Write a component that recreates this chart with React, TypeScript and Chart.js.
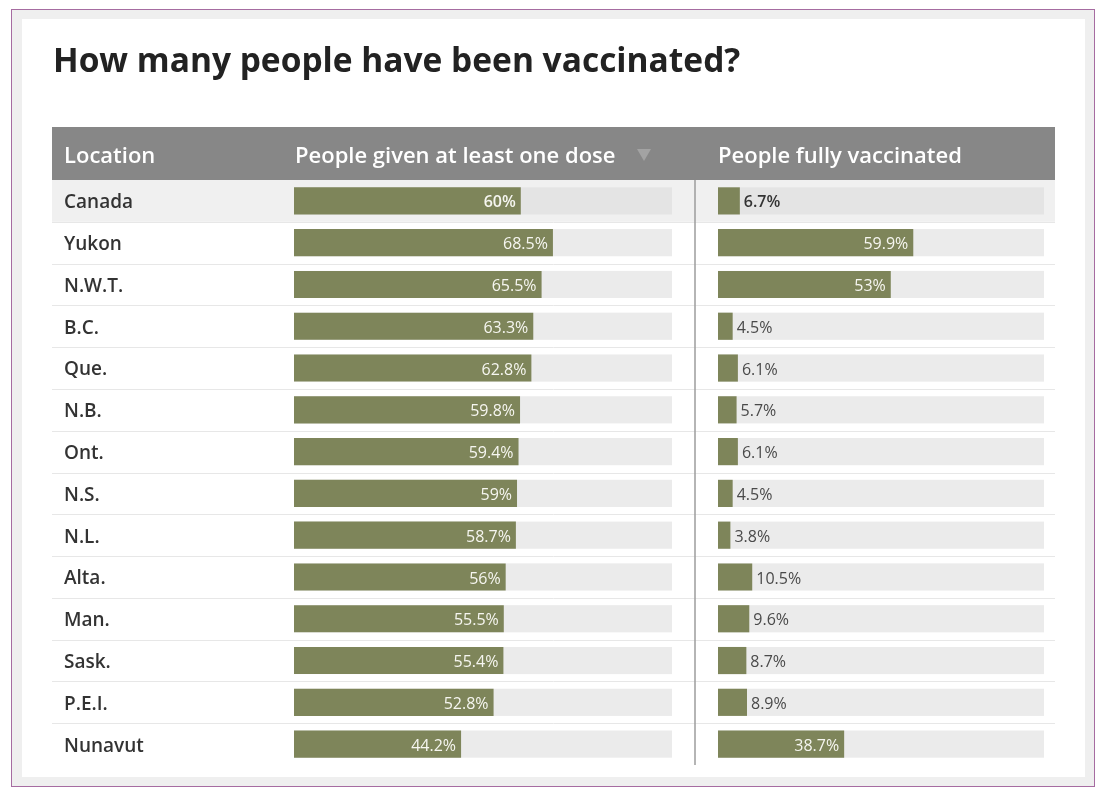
import React, { useEffect, useRef } from 'react';
import { Chart, registerables } from 'chart.js';
Chart.register(...registerables);

const W = 1106;
const H = 795;

const chartTitle = 'How many people have been vaccinated?';
const headerLabels = ['Location', 'People given at least one dose', 'People fully vaccinated'];
const locations = ['Canada', 'Yukon', 'N.W.T.', 'B.C.', 'Que.', 'N.B.', 'Ont.', 'N.S.', 'N.L.', 'Alta.', 'Man.', 'Sask.', 'P.E.I.', 'Nunavut'];
const atLeastOneDose = [60, 68.5, 65.5, 63.3, 62.8, 59.8, 59.4, 59, 58.7, 56, 55.5, 55.4, 52.8, 44.2];
const fullyVaccinated = [6.7, 59.9, 53, 4.5, 6.1, 5.7, 6.1, 4.5, 3.8, 10.5, 9.6, 8.7, 8.9, 38.7];
const scaleMax = 100;

const FONT = '"Open Sans", "DejaVu Sans", sans-serif';
const BAR_COLOR = '#7e855a';
const TRACK_COLOR = '#ebebeb';

const framePlugin = {
  id: 'frame',
  beforeDraw(chart: any) {
    const ctx = chart.ctx;
    const { top, bottom } = chart.chartArea;
    const n = locations.length;
    const rowH = (bottom - top) / n;
    ctx.save();
    ctx.fillStyle = '#ffffff';
    ctx.fillRect(0, 0, W, H);
    ctx.fillStyle = '#efefef';
    ctx.fillRect(12, 10, 1082, 776);
    ctx.strokeStyle = '#a66ca1';
    ctx.lineWidth = 1;
    ctx.strokeRect(11.5, 9.5, 1083, 777);
    ctx.fillStyle = '#ffffff';
    ctx.fillRect(22, 19, 1063, 758);

    // title
    ctx.fillStyle = '#222222';
    ctx.font = `700 33.5px ${FONT}`;
    ctx.textAlign = 'left';
    ctx.textBaseline = 'alphabetic';
    ctx.fillText(chartTitle, 53, 72);

    // header band
    ctx.fillStyle = '#878787';
    ctx.fillRect(52, 127, 1003, 53);
    ctx.fillStyle = '#ffffff';
    ctx.font = `600 22px ${FONT}`;
    ctx.fillText(headerLabels[0], 64, 163);
    ctx.fillText(headerLabels[1], 295, 163);
    ctx.fillText(headerLabels[2], 718, 163);
    ctx.fillStyle = '#a3a3a3';
    ctx.beginPath();
    ctx.moveTo(637, 149);
    ctx.lineTo(651, 149);
    ctx.lineTo(644, 161);
    ctx.closePath();
    ctx.fill();

    // highlighted first row
    ctx.fillStyle = '#f0f0f0';
    ctx.fillRect(52, top, 1003, rowH);

    // row separators
    ctx.strokeStyle = '#e7e7e7';
    ctx.lineWidth = 1;
    for (let k = 1; k < n; k++) {
      const y = Math.round(top + k * rowH) + 0.5;
      ctx.beginPath();
      ctx.moveTo(52, y);
      ctx.lineTo(1055, y);
      ctx.stroke();
    }

    // column divider
    ctx.strokeStyle = '#9c9c9c';
    ctx.lineWidth = 1.5;
    ctx.beginPath();
    ctx.moveTo(695, top);
    ctx.lineTo(695, bottom);
    ctx.stroke();
    ctx.restore();
  },
};

const trackPlugin = {
  id: 'tracks',
  beforeDatasetsDraw(chart: any) {
    const ctx = chart.ctx;
    const xs = chart.scales.x;
    const x0 = xs.getPixelForValue(0);
    const x1 = xs.getPixelForValue(scaleMax);
    const meta = chart.getDatasetMeta(0);
    ctx.save();
    meta.data.forEach((bar: any, i: number) => {
      ctx.fillStyle = i === 0 ? '#e4e4e4' : TRACK_COLOR;
      ctx.fillRect(x0, bar.y - bar.height / 2, x1 - x0, bar.height);
    });
    ctx.restore();
  },
};

const labelPlugin = {
  id: 'barLabels',
  afterDatasetsDraw(chart: any) {
    const ctx = chart.ctx;
    const meta = chart.getDatasetMeta(0);
    const data = chart.data.datasets[0].data as number[];
    ctx.save();
    ctx.textBaseline = 'middle';
    meta.data.forEach((bar: any, i: number) => {
      const text = `${data[i]}%`;
      ctx.font = `${i === 0 ? 600 : 400} 16px ${FONT}`;
      const w = ctx.measureText(text).width;
      const barW = bar.x - bar.base;
      if (barW > w + 14) {
        ctx.fillStyle = '#f6f6f0';
        ctx.textAlign = 'right';
        ctx.fillText(text, bar.x - 5, bar.y + 2);
      } else {
        ctx.fillStyle = i === 0 ? '#333333' : '#4a4a4a';
        ctx.textAlign = 'left';
        ctx.fillText(text, bar.x + 4, bar.y + 2);
      }
    });
    ctx.restore();
  },
};

function makeConfig(values: number[], padLeft: number, padRight: number, showLabels: boolean, plugins: any[]): any {
  return {
    type: 'bar',
    data: {
      labels: locations,
      datasets: [
        {
          data: values,
          backgroundColor: BAR_COLOR,
          borderWidth: 0,
          barPercentage: 1,
          categoryPercentage: 0.65,
        },
      ],
    },
    options: {
      indexAxis: 'y',
      responsive: false,
      animation: false,
      events: [],
      layout: { padding: { left: padLeft, right: padRight, top: 180, bottom: 30 } },
      plugins: {
        legend: { display: false },
        tooltip: { enabled: false },
        title: { display: false },
      },
      scales: {
        x: { display: false, min: 0, max: scaleMax },
        y: showLabels
          ? {
              grid: { display: false, drawTicks: false },
              border: { display: false },
              ticks: {
                crossAlign: 'far',
                color: '#333333',
                padding: 0,
                labelOffset: 2,
                font: { family: FONT, size: 19, weight: 600 },
              },
              afterFit: (s: any) => {
                s.width = 230;
              },
            }
          : { display: false },
      },
    },
    plugins,
  };
}

export default function App() {
  const ref1 = useRef<HTMLCanvasElement>(null);
  const ref2 = useRef<HTMLCanvasElement>(null);

  useEffect(() => {
    const c1 = new Chart(ref1.current as HTMLCanvasElement, makeConfig(atLeastOneDose, 64, W - 672, true, [framePlugin, trackPlugin, labelPlugin]));
    const c2 = new Chart(ref2.current as HTMLCanvasElement, makeConfig(fullyVaccinated, 718, W - 1044, false, [trackPlugin, labelPlugin]));
    return () => {
      c1.destroy();
      c2.destroy();
    };
  }, []);

  return (
    <div style={{ position: 'absolute', left: 0, top: 0, width: W, height: H, background: '#fff' }}>
      <canvas ref={ref1} width={W} height={H} style={{ position: 'absolute', left: 0, top: 0 }} />
      <canvas ref={ref2} width={W} height={H} style={{ position: 'absolute', left: 0, top: 0 }} />
    </div>
  );
}
